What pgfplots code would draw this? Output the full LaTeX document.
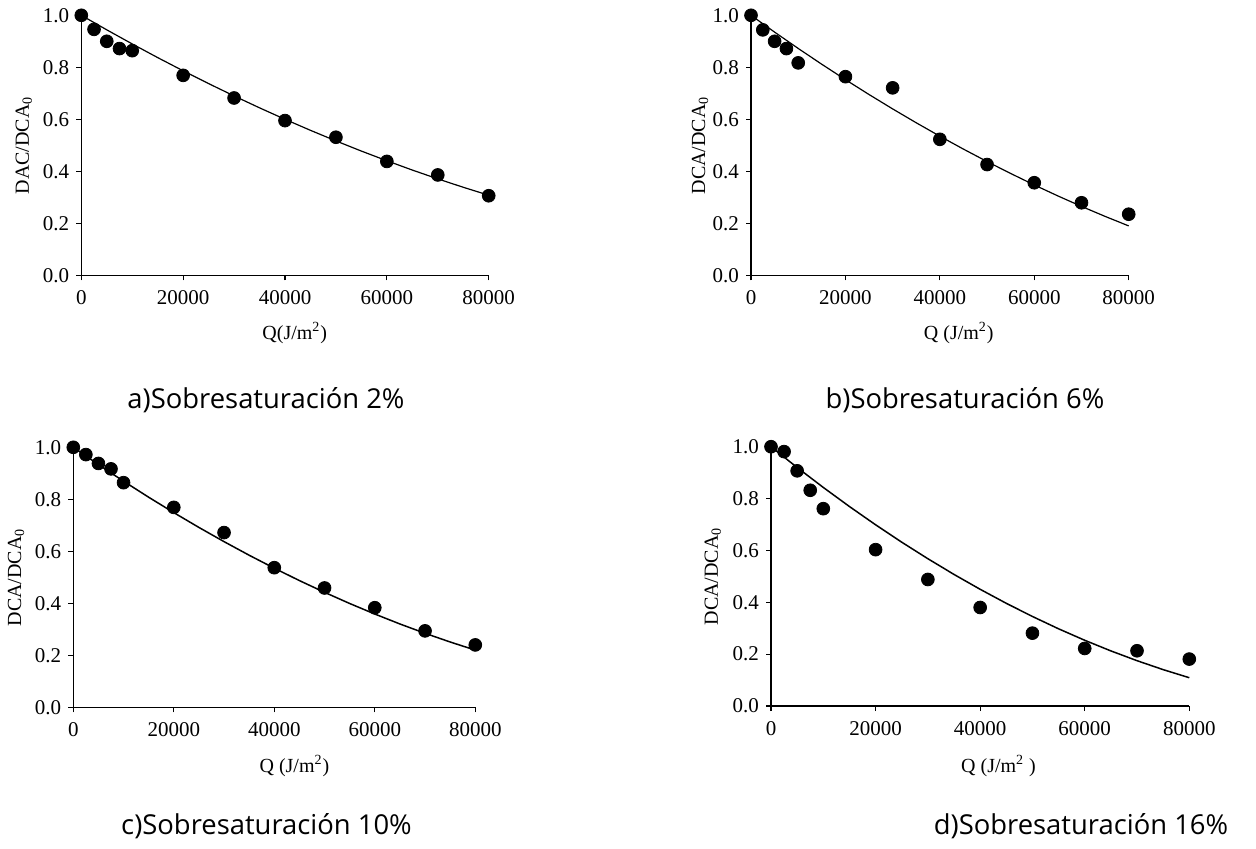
\documentclass[border=0pt]{standalone}
\usepackage{fontspec}
\setmainfont{Liberation Serif}
\newfontfamily\capfont{Open Sans}
\usepackage{pgfplots}
\pgfplotsset{compat=1.18}
\pgfplotsset{
  myax/.style={
    scale only axis,
    xmin=0, xmax=80000, ymin=0, ymax=1,
    axis lines=left,
    axis line style={-, line width=0.6pt, black},
    xtick={0,20000,40000,60000,80000},
    ytick={0,0.2,0.4,0.6,0.8,1.0},
    tick align=outside,
    major tick length=2.5pt,
    tick style={black, line width=0.6pt},
    scaled ticks=false,
    /pgf/number format/assume math mode=true,
    xticklabel style={/pgf/number format/fixed, /pgf/number format/set thousands separator={}},
    yticklabel style={/pgf/number format/fixed, /pgf/number format/fixed zerofill, /pgf/number format/precision=1},
    ticklabel style={font=\fontsize{10.5pt}{12pt}\selectfont},
    xticklabel shift=1.5pt,
    label style={font=\fontsize{10pt}{12pt}\selectfont},
    clip=false,
  },
  dots/.style={only marks, mark=*, mark size=3.2pt, black, mark options={fill=black, draw=black}},
  fit/.style={black, line width=0.6pt, no marks},
}
\begin{document}
\begin{tikzpicture}
\path[use as bounding box] (0,0) rectangle (628pt,424pt);

% a)
\begin{axis}[myax, at={(40.65pt,286.35pt)}, anchor=south west, width=203.7pt, height=130pt,
  xlabel={Q(J/m\textsuperscript{2})}, ylabel={DAC/DCA\textsubscript{0}},
  xlabel style={at={(axis description cs:0.524,-0.222)}, anchor=center},
  ylabel style={at={(axis description cs:-0.141,0.5)}, anchor=center}]
\addplot[fit] coordinates {(0,1) (5000,0.9441) (10000,0.8899) (15000,0.8373) (20000,0.7865) (25000,0.7373) (30000,0.6899) (35000,0.6441) (40000,0.600) (45000,0.5576) (50000,0.5169) (55000,0.4778) (60000,0.4405) (65000,0.4048) (70000,0.3709) (75000,0.3386) (80000,0.308)};
\addplot[dots] coordinates {(0,1.0) (2500,0.946) (5000,0.900) (7500,0.872) (10000,0.864) (20000,0.769) (30000,0.682) (40000,0.595) (50000,0.531) (60000,0.438) (70000,0.386) (80000,0.306)};
\end{axis}

% b)
\begin{axis}[myax, at={(375.5pt,286.35pt)}, anchor=south west, width=188.85pt, height=130pt,
  xlabel={Q (J/m\textsuperscript{2})}, ylabel={DCA/DCA\textsubscript{0}},
  xlabel style={at={(axis description cs:0.55,-0.222)}, anchor=center},
  ylabel style={at={(axis description cs:-0.135,0.5)}, anchor=center}]
\addplot[fit] coordinates {(0,1) (5000,0.9353) (10000,0.8725) (15000,0.8116) (20000,0.7525) (25000,0.6953) (30000,0.640) (35000,0.5866) (40000,0.535) (45000,0.4853) (50000,0.4375) (55000,0.3916) (60000,0.3475) (65000,0.3053) (70000,0.265) (75000,0.2266) (80000,0.19)};
\addplot[dots] coordinates {(0,1.0) (2500,0.944) (5000,0.900) (7500,0.872) (10000,0.817) (20000,0.764) (30000,0.721) (40000,0.523) (50000,0.426) (60000,0.356) (70000,0.279) (80000,0.235)};
\end{axis}

% c)
\begin{axis}[myax, at={(36.65pt,70.35pt)}, anchor=south west, width=201pt, height=130pt,
  xlabel={Q (J/m\textsuperscript{2})}, ylabel={DCA/DCA\textsubscript{0}},
  xlabel style={at={(axis description cs:0.55,-0.226)}, anchor=center},
  ylabel style={at={(axis description cs:-0.1425,0.5)}, anchor=center}]
\addplot[fit, line width=0.75pt] coordinates {(0,1) (5000,0.9337) (10000,0.8697) (15000,0.8080) (20000,0.7488) (25000,0.6918) (30000,0.6372) (35000,0.5849) (40000,0.535) (45000,0.4874) (50000,0.4422) (55000,0.3993) (60000,0.3588) (65000,0.3205) (70000,0.2847) (75000,0.2512) (80000,0.22)};
\addplot[dots] coordinates {(0,1.0) (2500,0.972) (5000,0.938) (7500,0.917) (10000,0.864) (20000,0.769) (30000,0.672) (40000,0.537) (50000,0.459) (60000,0.383) (70000,0.294) (80000,0.240)};
\end{axis}

% d)
\begin{axis}[myax, at={(385.5pt,71pt)}, anchor=south west, width=209.15pt, height=129.65pt,
  xlabel={Q (J/m\textsuperscript{2} )}, ylabel={DCA/DCA\textsubscript{0}},
  xlabel style={at={(axis description cs:0.544,-0.231)}, anchor=center},
  ylabel style={at={(axis description cs:-0.139,0.5)}, anchor=center}]
\addplot[fit, line width=0.75pt] coordinates {(0,1) (5000,0.9198) (10000,0.8429) (15000,0.7693) (20000,0.6989) (25000,0.6318) (30000,0.5680) (35000,0.5074) (40000,0.4501) (45000,0.3960) (50000,0.3453) (55000,0.2977) (60000,0.2535) (65000,0.2125) (70000,0.1748) (75000,0.1403) (80000,0.1091)};
\addplot[dots] coordinates {(0,1.0) (2500,0.981) (5000,0.907) (7500,0.832) (10000,0.761) (20000,0.603) (30000,0.488) (40000,0.380) (50000,0.281) (60000,0.222) (70000,0.213) (80000,0.181)};
\end{axis}

\node[font=\capfont\fontsize{13.7pt}{16pt}\selectfont, anchor=center] at (133pt,224pt) {a)Sobresaturación 2\%};
\node[font=\capfont\fontsize{13.7pt}{16pt}\selectfont, anchor=center] at (482.5pt,224pt) {b)Sobresaturación 6\%};
\node[font=\capfont\fontsize{13.7pt}{16pt}\selectfont, anchor=center] at (133.25pt,11pt) {c)Sobresaturación 10\%};
\node[font=\capfont\fontsize{13.7pt}{16pt}\selectfont, anchor=center] at (540.5pt,11pt) {d)Sobresaturación 16\%};
\end{tikzpicture}
\end{document}
